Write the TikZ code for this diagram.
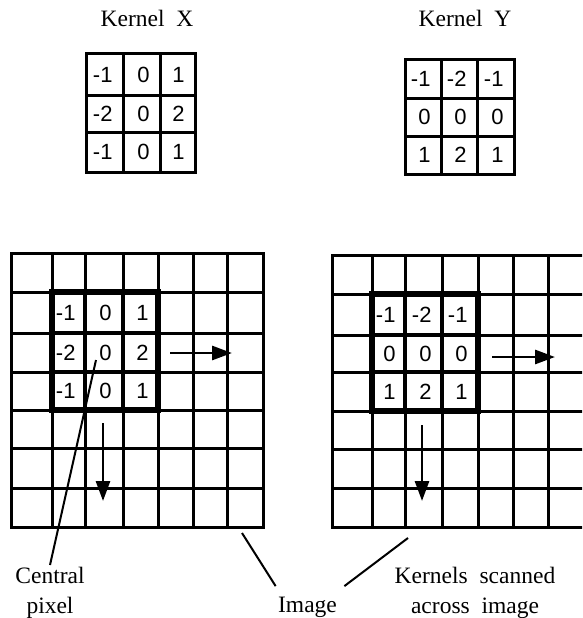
\documentclass[tikz,border=0pt]{standalone}
\usepackage{fontspec}
\setmainfont{Liberation Serif}
\newfontfamily\numfont{Liberation Sans}
\usetikzlibrary{arrows.meta, positioning, calc}
\tikzset{
  every picture/.style={x=1pt, y=-1pt, line width=3pt, line cap=rect},
  gridline/.style={line width=3pt},
  kline/.style={line width=4.5pt},
  kframe/.style={line width=6pt},
  num/.style={anchor=east, inner sep=0pt, font=\numfont\fontsize{22}{22}\selectfont},
  lbl/.style={font=\fontsize{23.5}{30}\selectfont, align=center, inner sep=1pt},
  scanarrow/.style={-{Triangle[length=20pt, width=14pt]}, line width=2.8pt, line cap=butt},
  leader/.style={line width=2pt, line cap=butt},
}

\begin{document}
\begin{tikzpicture}
  \path[use as bounding box, clip] (0,0) rectangle (582,618);
  % kernel X
  \node[lbl, anchor=base] (tx) at (147,27) {Kernel\ \ X};
  \foreach \x in {86,123,160,195} \draw (\x,54) -- (\x,172);
  \foreach \y in {54,95,132,172} \draw (86,\y) -- (195,\y);
  \foreach \r/\yc/\a/\b/\c in {1/74.5/-1/0/1, 2/113.5/-2/0/2, 3/152/-1/0/1} {
    \node[num] (kx\r1) at (114,\yc) {\a};
    \node[num] (kx\r2) at (151,\yc) {\b};
    \node[num] (kx\r3) at (186,\yc) {\c};
  }
  % kernel Y
  \node[lbl, anchor=base] (ty) at (465,27) {Kernel\ \ Y};
  \foreach \x in {405,441,477,514} \draw (\x,60) -- (\x,174);
  \foreach \y in {60,98,136,174} \draw (405,\y) -- (514,\y);
  \foreach \r/\yc/\a/\b/\c in {1/79/-1/-2/-1, 2/117/0/0/0, 3/155/1/2/1} {
    \node[num] (ky\r1) at (432,\yc) {\a};
    \node[num] (ky\r2) at (468,\yc) {\b};
    \node[num] (ky\r3) at (505,\yc) {\c};
  }

  % left image with kernel X
  \foreach \x in {11,52,85,123,158,193,227,263} \draw[gridline] (\x,253) -- (\x,527);
  \foreach \y in {253,292,333,372,410,448,488,527} \draw[gridline] (11,\y) -- (263,\y);
  \foreach \x in {85,123} \draw[kline] (\x,292) -- (\x,410);
  \foreach \y in {333,372} \draw[kline] (52,\y) -- (158,\y);
  \draw[kframe] (52,292) rectangle (158,410);
  \foreach \r/\yc/\a/\b/\c in {1/313/-1/0/1, 2/353/-2/0/2, 3/391/-1/0/1} {
    \node[num] (gx\r1) at (77,\yc) {\a};
    \node[num] (gx\r2) at (113,\yc) {\b};
    \node[num] (gx\r3) at (150,\yc) {\c};
  }

  % right image with kernel Y
  \foreach \x in {332,372,405,442,478,513,548} \draw[gridline] (\x,255) -- (\x,527);
  \foreach \y in {255,294,335,372,411,449,488,527} \draw[gridline] (332,\y) -- (590,\y);
  \foreach \x in {405,442} \draw[kline] (\x,294) -- (\x,411);
  \foreach \y in {335,372} \draw[kline] (372,\y) -- (478,\y);
  \draw[kframe] (372,294) rectangle (478,411);
  \foreach \r/\yc/\a/\b/\c in {1/314.5/-1/-2/-1, 2/353.5/0/0/0, 3/391.5/1/2/1} {
    \node[num] (gy\r1) at (397,\yc) {\a};
    \node[num] (gy\r2) at (433,\yc) {\b};
    \node[num] (gy\r3) at (469,\yc) {\c};
  }

  % scan directions
  \coordinate (lr0) at (170,353); \coordinate (lr1) at (232,353);
  \coordinate (ld0) at (103,423); \coordinate (ld1) at (103,501);
  \coordinate (rr0) at (492,357); \coordinate (rr1) at (555,357);
  \coordinate (rd0) at (422,425); \coordinate (rd1) at (422,501);
  \draw[scanarrow] (lr0) -- (lr1);
  \draw[scanarrow] (ld0) -- (ld1);
  \draw[scanarrow] (rr0) -- (rr1);
  \draw[scanarrow] (rd0) -- (rd1);

  % labels
  \node[lbl, anchor=north] (cpix) at (50,565) {Central\\pixel};
  \node[lbl, anchor=base] (img) at (307.5,612) {Image};
  \node[lbl, anchor=north] (scan) at (475,565) {Kernels\ \ scanned\\across\ \ image};
  \coordinate (cpx) at (96,360);
  \coordinate (lgrid) at (242,533);
  \coordinate (rgrid) at (408,538);
  \draw[leader] (cpx) -- (cpix.north);
  \draw[leader] (lgrid) -- ([shift={(0,-8)}]img.north west);
  \draw[leader] (rgrid) -- ([shift={(5,-8)}]img.north east);
\end{tikzpicture}
\end{document}
